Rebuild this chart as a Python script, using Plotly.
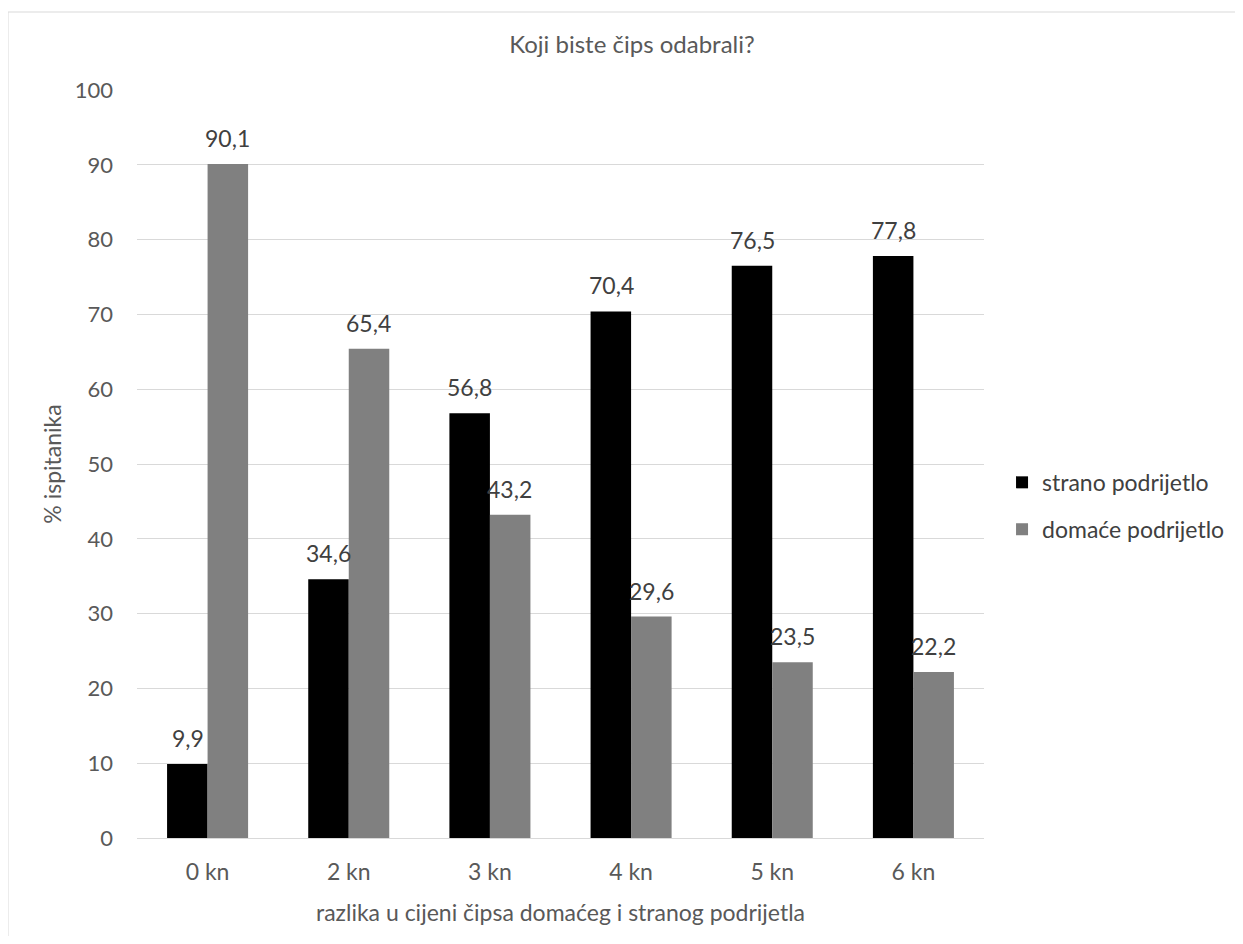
import plotly.graph_objects as go

categories = ["0 kn", "2 kn", "3 kn", "4 kn", "5 kn", "6 kn"]
strano = [9.9, 34.6, 56.8, 70.4, 76.5, 77.8]
domace = [90.1, 65.4, 43.2, 29.6, 23.5, 22.2]
strano_labels = ["9,9", "34,6", "56,8", "70,4", "76,5", "77,8"]
domace_labels = ["90,1", "65,4", "43,2", "29,6", "23,5", "22,2"]
y_ticks = [0, 10, 20, 30, 40, 50, 60, 70, 80, 90, 100]

FONT = "Lato"
L, T, PW, PH = 129, 82, 847, 748
W, H = 1227, 928
GRAY_TXT = "#595959"
LBL_TXT = "#404040"

fig = go.Figure()
fig.add_trace(go.Bar(
    x=categories, y=strano, name="strano podrijetlo",
    marker=dict(color="#000000", line=dict(width=0)), legendgroup="a",
))
fig.add_trace(go.Bar(
    x=categories, y=domace, name="domaće podrijetlo",
    marker=dict(color="#808080", line=dict(width=0)), legendgroup="b",
))

annotations = []
for series, labels, dx in ((strano, strano_labels, -20), (domace, domace_labels, 20)):
    for cat, val, lab in zip(categories, series, labels):
        annotations.append(dict(x=cat, y=val, xref="x", yref="y", text=lab, showarrow=False,
                                xanchor="center", yanchor="bottom", xshift=dx, yshift=10,
                                font=dict(size=23, color=LBL_TXT, family=FONT)))

fig.update_layout(
    width=W, height=H,
    paper_bgcolor="white", plot_bgcolor="white",
    font=dict(family=FONT, color=GRAY_TXT, size=23),
    barmode="group", bargap=0.426, bargroupgap=0,
    margin=dict(l=L, r=W - L - PW, t=T, b=H - T - PH, pad=0, autoexpand=False),
    title=dict(text="Koji biste čips odabrali?", x=624 / W, xanchor="center",
               y=1 - 37 / H, yanchor="middle",
               font=dict(size=24, color=GRAY_TXT, family=FONT)),
    xaxis=dict(showgrid=False, showline=True, linecolor="#d9d9d9", linewidth=1,
               ticks="", ticklabelstandoff=13, tickfont=dict(size=23, color=GRAY_TXT),
               title=dict(text="razlika u cijeni čipsa domaćeg i stranog podrijetla",
                          font=dict(size=23, color=GRAY_TXT), standoff=21)),
    yaxis=dict(range=[0, 100], tickvals=y_ticks, showgrid=True, gridcolor="#d9d9d9",
               gridwidth=1, zeroline=False, ticks="", showline=False,
               ticklabelstandoff=23,
               tickfont=dict(size=22, color=GRAY_TXT),
               title=dict(text="% ispitanika", font=dict(size=23, color=GRAY_TXT), standoff=6)),
    legend=dict(x=0.0213 + 1, xanchor="left", y=0.444, yanchor="middle",
                font=dict(size=23, color=LBL_TXT, family=FONT),
                traceorder="grouped", tracegroupgap=14, itemwidth=30),
    annotations=annotations,
    shapes=[dict(type="rect", xref="paper", yref="paper",
                 x0=-L / PW, x1=1 + 300 / PW, y0=-(H - T - PH + 20) / PH, y1=1 + (T - 4) / PH,
                 line=dict(color="#d9d9d9", width=1), fillcolor="rgba(0,0,0,0)", layer="below")],
)

fig.write_html("out.html")
